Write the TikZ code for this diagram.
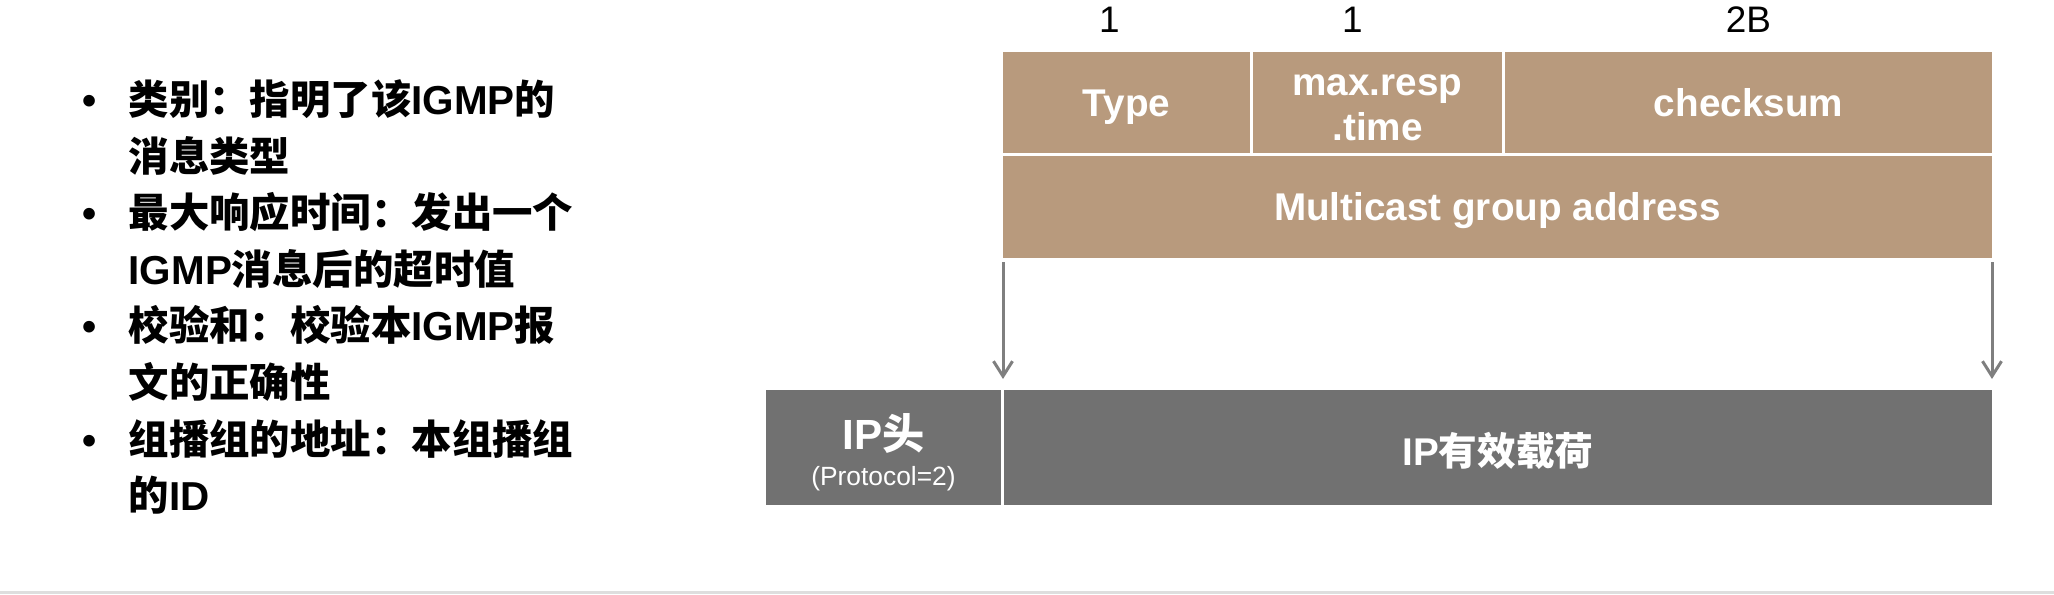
\documentclass[tikz,border=0pt]{standalone}
\usepackage{fontspec}
\setmainfont{Liberation Sans}
\newfontfamily\cjk{Noto Sans CJK SC}
\usetikzlibrary{positioning,arrows.meta}
\newcommand{\zh}[1]{{\cjk #1}}
\definecolor{fieldbrown}{HTML}{B89A7D}
\definecolor{ipgray}{HTML}{717171}
\definecolor{arrowgray}{HTML}{7F7F7F}
\definecolor{rulegray}{HTML}{DEDEDE}

\begin{document}
\begin{tikzpicture}[
node distance=0.03cm and 0.03cm,
field/.style={fill=fieldbrown, text=white, font=\bfseries\fontsize{11}{13}\selectfont, align=center, inner sep=0pt, outer sep=0pt, minimum height=1.01cm},
oneline/.style={text height=7.9pt, text depth=0pt},
ipbox/.style={fill=ipgray, text=white, align=center, inner sep=0pt, outer sep=0pt, minimum height=1.15cm},
bytes/.style={font=\fontsize{10.5}{12}\selectfont, inner sep=0pt},
>={Straight Barb[length=0.15cm,width=0.19cm]}
]
\useasboundingbox (0,0) rectangle (20.54,5.94);

%-------------------------
% Notes
%-------------------------

\node (notes) [anchor=west, align=left, inner sep=0pt, font=\bfseries\fontsize{11.5}{16.1}\selectfont] at (0.82,2.97) {%
\makebox[0.46cm][l]{\textbullet}\zh{类别：指明了该}IGMP\zh{的}\\
\hspace*{0.46cm}\zh{消息类型}\\
\makebox[0.46cm][l]{\textbullet}\zh{最大响应时间：发出一个}\\
\hspace*{0.46cm}IGMP\zh{消息后的超时值}\\
\makebox[0.46cm][l]{\textbullet}\zh{校验和：校验本}IGMP\zh{报}\\
\hspace*{0.46cm}\zh{文的正确性}\\
\makebox[0.46cm][l]{\textbullet}\zh{组播组的地址：本组播组}\\
\hspace*{0.46cm}\zh{的}ID};

%-------------------------
% IGMP message
%-------------------------

\node (type)     [field, oneline, minimum width=2.47cm, anchor=north west] at (10.03,5.42) {Type};
\node (maxresp)  [field, minimum width=2.49cm, right=of type] {\rule{0pt}{9pt}max.resp\\.time};
\node (checksum) [field, oneline, minimum width=4.87cm, right=of maxresp] {checksum};
\node (mcast)    [field, oneline, minimum width=9.89cm, minimum height=1.02cm, below=of type.south west, anchor=north west] {Multicast group address};

\node (lentype)     [bytes] at ([xshift=-0.17cm, yshift=0.32cm]type.north) {1};
\node (lenmaxresp)  [bytes] at ([xshift=-0.25cm, yshift=0.32cm]maxresp.north) {1};
\node (lenchecksum) [bytes] at ([yshift=0.32cm]checksum.north) {2B};

%-------------------------
% IP packet
%-------------------------

\node (iphead)  [ipbox, minimum width=2.35cm, anchor=north west] at (7.66,2.04)
{{\bfseries\fontsize{12}{12}\selectfont\rule{0pt}{13pt}IP\zh{头}}\\[-1.6pt]{\fontsize{7.5}{9}\selectfont (Protocol=2)}};
\node (payload) [ipbox, minimum width=9.88cm, right=of iphead, text height=10pt, text depth=0pt, font=\bfseries\fontsize{11}{13}\selectfont] {IP\zh{有效载荷}};

%-------------------------
% Arrows
%-------------------------

\draw[->, arrowgray, line width=0.03cm, shorten <=0.04cm, shorten >=0.11cm] (mcast.south west) -- (mcast.south west |- payload.north);
\draw[->, arrowgray, line width=0.03cm, shorten <=0.04cm, shorten >=0.11cm] (mcast.south east) -- (mcast.south east |- payload.north);

\fill[rulegray] (0,0) rectangle (20.54,0.03);

\end{tikzpicture}
\end{document}
